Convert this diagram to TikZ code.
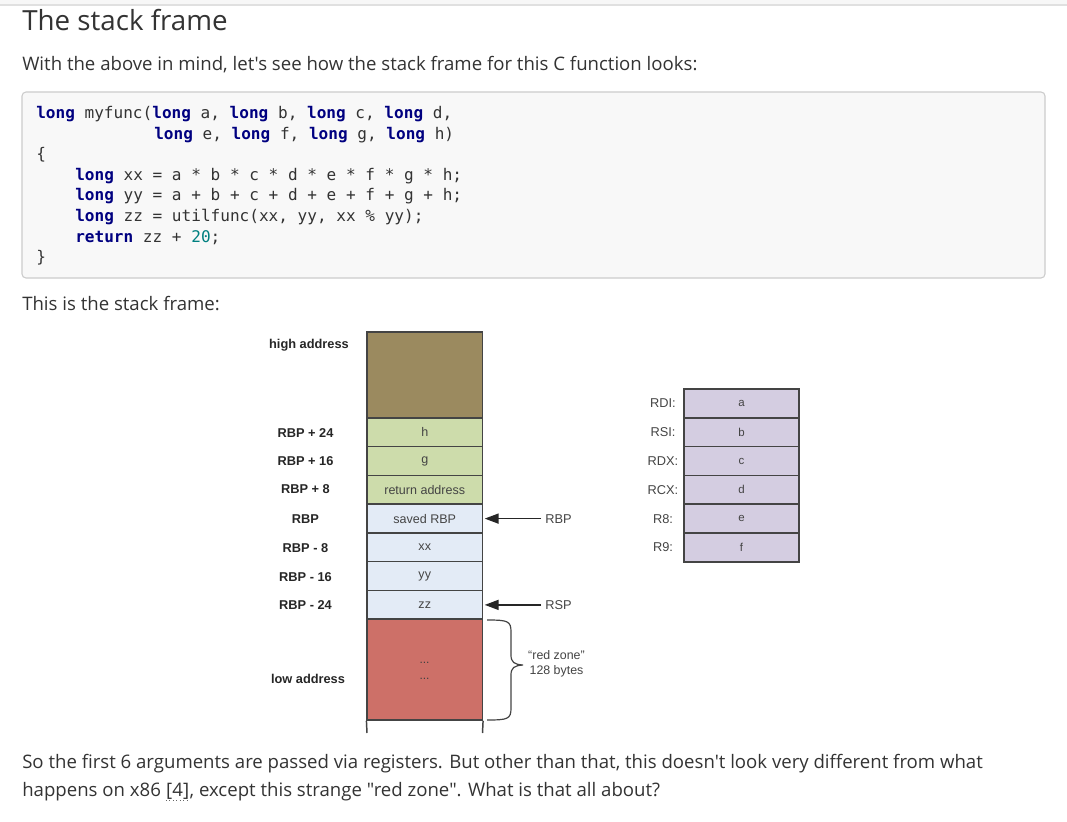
\documentclass[tikz,border=0pt]{standalone}
\usepackage{fontspec}
\usetikzlibrary{arrows.meta}
\newfontfamily\bodyfont{Open Sans}
\newfontfamily\codefont{DejaVu Sans Mono}
\newfontfamily\diagfont{Liberation Sans}
\definecolor{txt}{HTML}{333333}
\definecolor{kw}{HTML}{000080}
\definecolor{num}{HTML}{008080}
\definecolor{codebg}{HTML}{F8F8F8}
\definecolor{codeborder}{HTML}{CCCCCC}
\definecolor{brownc}{HTML}{9B8A5F}
\definecolor{greenc}{HTML}{CDDCAB}
\definecolor{bluec}{HTML}{E3EBF6}
\definecolor{redc}{HTML}{CD7068}
\definecolor{lavc}{HTML}{D4CDE1}
\definecolor{edge}{HTML}{444444}
\newcommand{\K}[1]{\textcolor{kw}{\bfseries #1}}
\newcommand{\N}[1]{\textcolor{num}{#1}}
\tikzset{
  bodytext/.style={anchor=base west, inner sep=0pt, text=txt, font=\bodyfont\fontsize{13.95pt}{16pt}\selectfont},
  codeline/.style={anchor=base west, inner sep=0pt, text=txt, font=\codefont\fontsize{12.05pt}{14pt}\selectfont},
  cell/.style={draw=edge, line width=1.1pt, minimum width=86.4pt, minimum height=21.6pt, inner sep=0pt, text=edge, font=\diagfont\fontsize{9.4pt}{11pt}\selectfont},
  regcell/.style={draw=edge, line width=1.1pt, fill=lavc, minimum width=86.25pt, minimum height=21.6pt, inner sep=0pt, text=edge, font=\diagfont\fontsize{8.6pt}{10pt}\selectfont},
  addr/.style={text=black!85, font=\diagfont\bfseries\fontsize{9.6pt}{11pt}\selectfont, inner sep=0pt},
  reglabel/.style={text=edge, font=\diagfont\fontsize{9.6pt}{11pt}\selectfont, inner sep=0pt},
  ptrlabel/.style={anchor=west, text=edge, font=\diagfont\fontsize{9.6pt}{11pt}\selectfont, inner sep=0pt},
  ptrarrow/.style={line width=1.3pt, draw=black!85, -{Triangle[length=10.5pt,width=7.5pt]}},
  dotstyle/.style={text=black!75, font=\diagfont\fontsize{9pt}{9pt}\selectfont, inner sep=0pt},
}
\begin{document}
\begin{tikzpicture}[x=0.75pt,y=-0.75pt]
\useasboundingbox (0,0) rectangle (1067,821);
\fill[white] (0,0) rectangle (1067,821);
\fill[black!3] (0,0) rectangle (1067,5);
\draw[black!12, line width=0.8pt] (0,5) -- (1067,5);

% title and intro
\node[bodytext, font=\bodyfont\fontsize{20.8pt}{24pt}\selectfont] (title) at (22,31) {The stack frame};
\node[bodytext] (intro) at (22,70) {With the above in mind, let's see how the stack frame for this C function looks:};

% code block
\draw[codeborder, fill=codebg, line width=0.8pt, rounded corners=3pt] (22,92) rectangle (1045,278);
\node[codeline] (c1) at (36,118.5) {\K{long} myfunc(\K{long} a, \K{long} b, \K{long} c, \K{long} d,};
\node[codeline] (c2) at (154,139.1) {\K{long} e, \K{long} f, \K{long} g, \K{long} h)};
\node[codeline] (c3) at (36,159.7) {\{};
\node[codeline] (c4) at (75,180.3) {\K{long} xx = a * b * c * d * e * f * g * h;};
\node[codeline] (c5) at (75,200.9) {\K{long} yy = a + b + c + d + e + f + g + h;};
\node[codeline] (c6) at (75,221.5) {\K{long} zz = utilfunc(xx, yy, xx \% yy);};
\node[codeline] (c7) at (75,242.1) {\K{return} zz + \N{20};};
\node[codeline] (c8) at (36,262.7) {\}};

\node[bodytext] (this) at (22,310) {This is the stack frame:};

% stack column
\node[cell, fill=brownc, minimum height=64.5pt] (top) at (424.75,375) {};
\node[cell, fill=greenc] (h) at (424.75,432.4) {h};
\node[cell, fill=greenc] (g) at (424.75,461.1) {g};
\node[cell, fill=greenc] (ret) at (424.75,489.9) {return address};
\node[cell, fill=bluec] (srbp) at (424.75,518.6) {saved RBP};
\node[cell, fill=bluec] (xx) at (424.75,547.4) {xx};
\node[cell, fill=bluec] (yy) at (424.75,576.1) {yy};
\node[cell, fill=bluec] (zz) at (424.75,604.9) {zz};
\node[cell, fill=redc, minimum height=75.6pt] (red) at (424.75,669.6) {};
\node[dotstyle] (dots1) at (424.5,663) {...};
\node[dotstyle] (dots2) at (424.5,679) {...};
\coordinate (bl) at (367,733);
\coordinate (br) at (482.5,733);
\draw[edge, line width=1.1pt] (red.south west) -- (bl);
\draw[edge, line width=1.1pt] (red.south east) -- (br);

% address labels
\node[addr] (lhigh) at (309,345) {high address};
\node[addr] (l24) at (305.5,433) {RBP + 24};
\node[addr] (l16) at (305.5,461) {RBP + 16};
\node[addr] (l8) at (305.5,489.5) {RBP + 8};
\node[addr] (l0) at (305.5,519) {RBP};
\node[addr] (lm8) at (305.5,548) {RBP - 8};
\node[addr] (lm16) at (305.5,577) {RBP - 16};
\node[addr] (lm24) at (305.5,605.5) {RBP - 24};
\node[addr] (llow) at (308,678.5) {low address};

% pointers
\node[ptrlabel] (prbp) at (545,518.6) {RBP};
\node[ptrlabel] (prsp) at (545,604.9) {RSP};
\draw[ptrarrow] (prbp.west) ++(-4,0) -- ([xshift=1.2pt]srbp.east);
\draw[ptrarrow] (prsp.west) ++(-4,0) -- ([xshift=1.2pt]zz.east);

% red zone brace
\coordinate (bt) at (487,620);
\coordinate (bb) at (487,720);
\coordinate (btip) at (523,665);
\draw[edge, line width=0.9pt] (bt) .. controls (508,620) and (511,621) .. (511,632)
  -- (511,655) .. controls (511,662) and (514,664.5) .. (btip)
  .. controls (514,665.5) and (511,668) .. (511,675)
  -- (511,708) .. controls (511,719) and (508,720) .. (bb);
\node[text=edge, font=\diagfont\fontsize{9.3pt}{11.6pt}\selectfont, align=center, inner sep=0pt] (rz) at (556.5,664) {“red zone”\\128 bytes};

% registers
\node[regcell] (ra) at (741.5,403.4) {a};
\node[regcell] (rb) at (741.5,432.2) {b};
\node[regcell] (rc) at (741.5,461) {c};
\node[regcell] (rd) at (741.5,489.8) {d};
\node[regcell] (re) at (741.5,518.6) {e};
\node[regcell] (rf) at (741.5,547.4) {f};
\node[reglabel] (lrdi) at (663,403.4) {RDI:};
\node[reglabel] (lrsi) at (663,432.2) {RSI:};
\node[reglabel] (lrdx) at (663,461) {RDX:};
\node[reglabel] (lrcx) at (663,489.8) {RCX:};
\node[reglabel] (lr8) at (663,518.6) {R8:};
\node[reglabel] (lr9) at (663,547.4) {R9:};

% closing text
\node[bodytext] (s1) at (22,768) {So the first 6 arguments are passed via registers. But other than that, this doesn't look very different from what};
\node[bodytext] (s2a) at (22,796) {happens on x86\kern0.26em};
\node[bodytext] (s2b) at (s2a.base east) {[4]};
\node[bodytext] (s2c) at (s2b.base east) {, except this strange "red zone". What is that all about?};
\draw[black!60, dotted, line width=0.6pt] ([yshift=-3pt]s2b.base west) -- ([yshift=-3pt]s2b.base east);
\end{tikzpicture}
\end{document}
